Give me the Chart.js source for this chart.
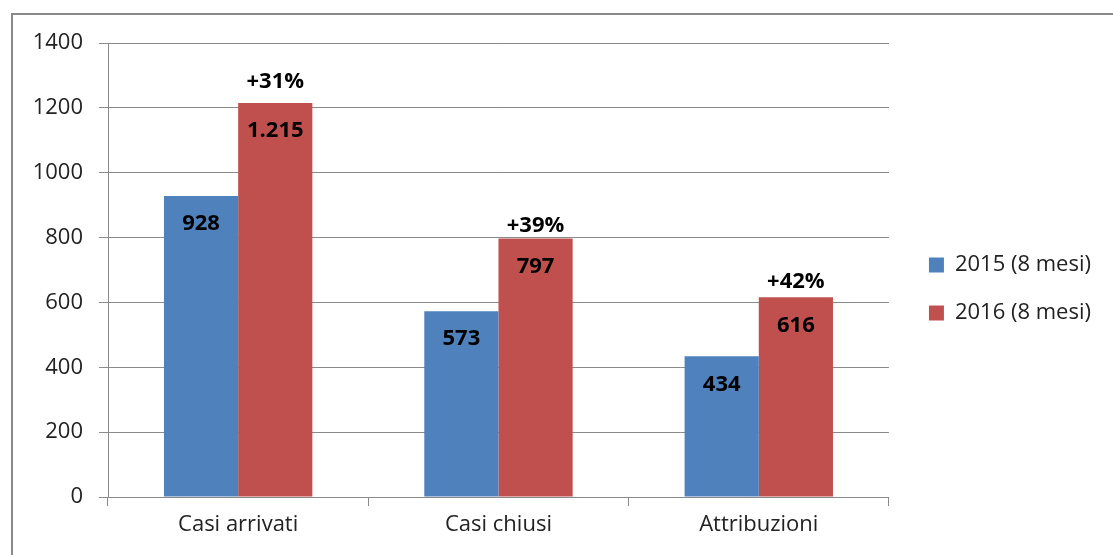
<!DOCTYPE html>
<html>
<head>
<meta charset="utf-8">
<script src="https://cdn.jsdelivr.net/npm/chart.js@4.4.0/dist/chart.umd.min.js"></script>
<style>
  html, body { margin: 0; padding: 0; background: #fff; }
  #wrap { position: relative; width: 1113px; height: 555px; overflow: hidden; }
  #frame { position: absolute; left: 11px; top: 13px; width: 1200px; height: 600px;
           border-left: 2px solid #8a8a8a; border-top: 2px solid #8a8a8a; }
  canvas { position: absolute; left: 0; top: 0; }
</style>
</head>
<body>
<div id="wrap">
  <div id="frame"></div>
  <canvas id="chart" width="1113" height="555"></canvas>
</div>
<script>
// categorie e valori (primi 8 mesi)
const categories = ['Casi arrivati', 'Casi chiusi', 'Attribuzioni'];
const values2015 = [928, 573, 434];
const values2016 = [1215, 797, 616];
const valueLabels2015 = ['928', '573', '434'];
const valueLabels2016 = ['1.215', '797', '616'];
const growthLabels = ['+31%', '+39%', '+42%'];
const yTicks = [0, 200, 400, 600, 800, 1000, 1200, 1400];

const FONT = "'Open Sans', 'Liberation Sans', sans-serif";
// distanza delle etichette % sopra la barra (caselle di testo messe a mano nell'originale)
const growthGap = [21, 13, 16];

const barLabels = {
    id: 'barLabels',
    afterLayout(chart) {
        // sposto la legenda come nell'originale
        const lg = chart.legend;
        lg.top -= 10;
        lg.bottom -= 10;
        lg.left += 14;
        lg.right += 14;
    },
    afterDatasetsDraw(chart) {
        const ctx = chart.ctx;
        ctx.save();
        ctx.textAlign = 'center';
        ctx.textBaseline = 'middle';
        ctx.fillStyle = '#000';
        ctx.font = 'bold 22px ' + FONT;
        const sets = [valueLabels2015, valueLabels2016];
        sets.forEach((labels, di) => {
            chart.getDatasetMeta(di).data.forEach((bar, i) => {
                ctx.fillText(labels[i], bar.x, bar.y + 28);
                if (di === 1) {
                    ctx.fillText(growthLabels[i], bar.x, bar.y - growthGap[i]);
                }
            });
        });
        ctx.restore();
    }
};

const ctx = document.getElementById('chart').getContext('2d');
const chart = new Chart(ctx, {
    type: 'bar',
    data: {
        labels: categories,
        datasets: [
            {
                label: '2015 (8 mesi)',
                data: values2015,
                backgroundColor: '#4F81BD',
                categoryPercentage: 0.57,
                barPercentage: 1.0
            },
            {
                label: '2016 (8 mesi)',
                data: values2016,
                backgroundColor: '#C0504D',
                categoryPercentage: 0.57,
                barPercentage: 1.0
            }
        ]
    },
    options: {
        responsive: false,
        animation: false,
        layout: { padding: { top: 43, right: 26, bottom: 0, left: 0 } },
        plugins: {
            legend: {
                position: 'right',
                labels: {
                    boxWidth: 15,
                    boxHeight: 15,
                    padding: 26,
                    color: '#222',
                    font: { family: FONT, size: 22 }
                }
            },
            tooltip: { enabled: false }
        },
        scales: {
            x: {
                afterFit(s) { s.height = 58; },
                grid: {
                    offset: true,
                    drawOnChartArea: false,
                    color: '#8a8a8a',
                    tickLength: 9
                },
                border: { color: '#8a8a8a' },
                ticks: {
                    padding: 6,
                    color: '#222',
                    font: { family: FONT, size: 22 }
                }
            },
            y: {
                min: 0,
                max: 1400,
                afterFit(s) { s.width = 108; },
                afterBuildTicks(s) { s.ticks = yTicks.map(v => ({ value: v })); },
                grid: { color: '#8a8a8a', tickLength: 9 },
                border: { color: '#8a8a8a' },
                ticks: {
                    padding: 16,
                    color: '#222',
                    font: { family: FONT, size: 22 },
                    callback: v => String(v)
                }
            }
        }
    },
    plugins: [barLabels]
});
</script>
</body>
</html>
